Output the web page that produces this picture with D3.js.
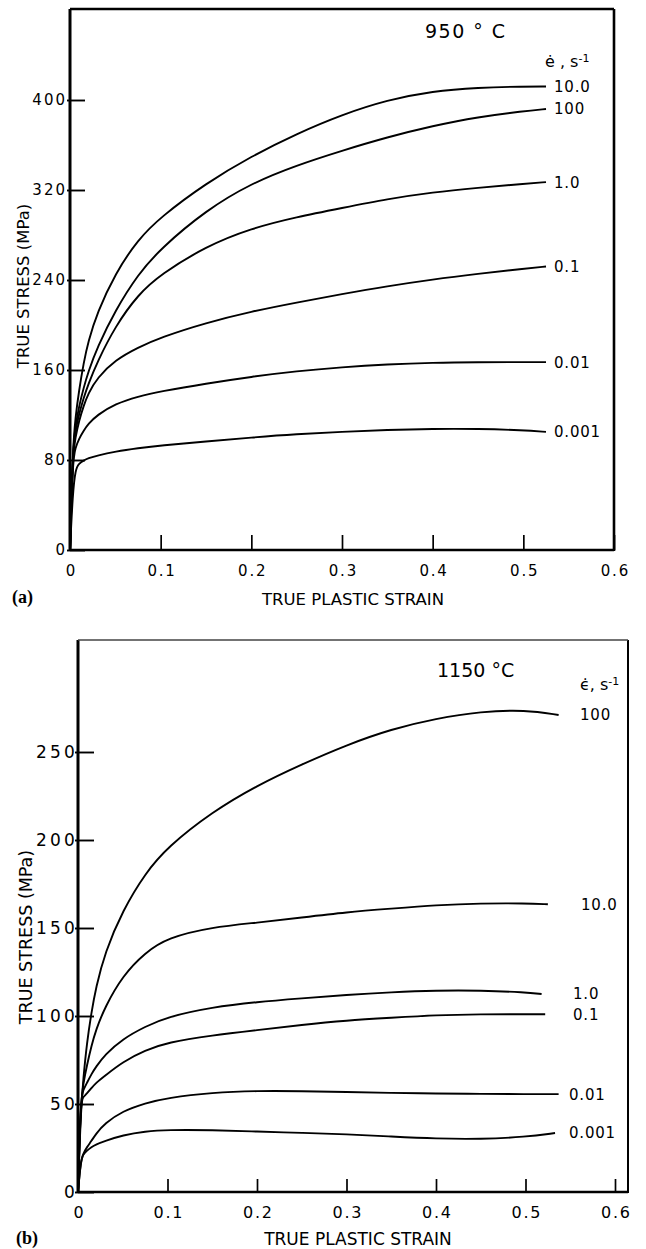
<!DOCTYPE html>
<html>
<head>
<meta charset="utf-8">
<script src="https://cdn.jsdelivr.net/npm/d3@7"></script>
<style>
  body { margin: 0; background: #fff; }
  svg { display: block; }
  text { font-family: "DejaVu Sans", sans-serif; fill: #000; }
</style>
</head>
<body>
<svg width="646" height="1249"></svg>
<script>
// ---- data: (a) 950 °C ----
const strainA = [0, 0.003, 0.006, 0.01, 0.015, 0.02, 0.03, 0.05, 0.075, 0.1, 0.15, 0.2, 0.25, 0.3, 0.35, 0.4, 0.45, 0.5, 0.525];
const ratesA = ["10.0", "100", "1.0", "0.1", "0.01", "0.001"];
const stressA_10 = [0, 90, 118, 142, 166, 185, 211, 246, 276, 296, 326, 350, 370, 387, 400, 408, 411, 412, 412];
const stressA_100 = [0, 88, 110, 128, 144, 158, 180, 213, 245, 268, 302, 326, 342, 355, 367, 377, 385, 390, 392];
const stressA_1 = [0, 88, 106, 121, 135, 147, 167, 199, 227, 245, 270, 286, 296, 304, 312, 318, 322, 325.5, 327];
const stressA_01 = [0, 85, 100, 115, 128, 139, 153, 169, 180, 189, 202, 212, 220, 227.5, 234.5, 240.5, 245.5, 250, 252];
const stressA_001 = [0, 80, 91, 99, 106, 112, 120, 130, 136.5, 141, 148, 154, 159, 162.5, 165, 166.5, 167, 167, 167];
const stressA_0001 = [0, 50, 72, 77, 79.5, 81.5, 84, 87.5, 90.5, 93, 96.5, 100, 103, 105, 106.8, 107.7, 107.7, 106.5, 105];
const yTicksA = [0, 80, 160, 240, 320, 400];

// ---- data: (b) 1150 °C ----
const strainB = [0, 0.003, 0.006, 0.01, 0.015, 0.02, 0.03, 0.05, 0.075, 0.1, 0.15, 0.2, 0.25, 0.3, 0.35, 0.4, 0.45, 0.5];
const ratesB = ["100", "10.0", "1.0", "0.1", "0.01", "0.001"];
const endStrainB = [0.537, 0.525, 0.518, 0.522, 0.537, 0.533];
const stressB_100 = [0, 45, 65, 85, 102, 116, 136, 160, 181, 196, 216, 231, 243, 254, 263, 269, 273, 274, 271];
const stressB_10 = [0, 50, 62, 72, 83, 92, 105, 123, 136, 144.5, 150.5, 153, 156, 159, 161, 163, 164, 164, 163.5];
const stressB_1 = [0, 54, 58, 62, 67, 71, 78, 87, 94, 99.5, 105, 108, 110, 112, 113.5, 114.5, 114.5, 113.5, 112.5];
const stressB_01 = [0, 52, 54, 56, 59, 62, 66, 74, 80.5, 85, 89, 92, 95, 97.5, 99, 100.5, 101, 101, 101];
const stressB_001 = [0, 17, 22, 25.5, 29, 33, 39, 46, 50.5, 53.5, 56.5, 57.5, 57.3, 56.8, 56.3, 56, 55.7, 55.6, 55.6];
const stressB_0001 = [0, 18, 21.5, 23.5, 25.5, 27, 29, 32.3, 34.5, 35.3, 35.2, 34.3, 33.6, 32.8, 31.5, 30.3, 30, 31.3, 33.5];
const yTicksB = [0, 50, 100, 150, 200, 250];

const xTicks = [0, 0.1, 0.2, 0.3, 0.4, 0.5, 0.6];

const svg = d3.select("svg");
const fmtX = d => d === 0 ? "0" : d3.format(".1f")(d);

function drawPanel(o) {
  const g = svg.append("g");
  const x = d3.scaleLinear().domain([0, 0.6]).range(o.xRange);
  const y = d3.scaleLinear().domain(o.yDomain).range(o.yRange);

  // curves
  const line = d3.line()
    .x(d => x(d[0]))
    .y(d => y(d[1]))
    .curve(d3.curveBasis);

  o.series.forEach((s, i) => {
    const pts = s.map((v, j) => [o.strains[i][j], v]);
    g.append("path")
      .attr("d", line(pts))
      .attr("fill", "none")
      .attr("stroke", "#000")
      .attr("stroke-width", 1.9);
    const last = pts[pts.length - 1];
    g.append("text")
      .attr("x", o.labelX(x(last[0]), i))
      .attr("y", y(last[1]))
      .attr("dy", "0.36em")
      .style("font-size", "15px")
      .style("letter-spacing", "0.8px")
      .text(o.rates[i]);
  });

  // axes (inward ticks)
  const ax = g.append("g")
    .attr("transform", `translate(0,${o.yRange[0]})`)
    .call(d3.axisBottom(x).tickValues(xTicks).tickFormat(fmtX)
      .tickSizeInner(-o.xTickLen).tickSizeOuter(0).tickPadding(o.xPad));
  ax.select(".domain").remove();
  ax.selectAll("line").attr("stroke", "#000").attr("stroke-width", 1.7);
  ax.selectAll("text").style("font-size", o.xFont + "px")
    .style("letter-spacing", "1.8px").style("font-family", "DejaVu Sans")
    .attr("dx", "0.9px");

  const ay = g.append("g")
    .attr("transform", `translate(${o.xRange[0]},0)`)
    .call(d3.axisLeft(y).tickValues(o.yTicks)
      .tickSizeInner(-o.yTickLen).tickSizeOuter(0).tickPadding(o.yPad));
  ay.select(".domain").remove();
  ay.selectAll("line").attr("stroke", "#000").attr("stroke-width", 1.9)
    .attr("x1", -3);
  ay.selectAll("text").style("font-size", o.yFont + "px")
    .style("letter-spacing", o.yLs + "px").style("font-family", "DejaVu Sans");

  // frame
  const [l, r] = [o.xRange[0], o.frameRight];
  const [b, t] = [o.yRange[0], o.frameTop];
  g.append("line").attr("x1", l).attr("x2", l).attr("y1", t).attr("y2", b + 1)
    .attr("stroke", "#000").attr("stroke-width", o.frameW[0]);
  g.append("line").attr("x1", l).attr("x2", r).attr("y1", b).attr("y2", b)
    .attr("stroke", "#000").attr("stroke-width", o.frameW[1]);
  g.append("line").attr("x1", r).attr("x2", r).attr("y1", t).attr("y2", b + 1)
    .attr("stroke", "#000").attr("stroke-width", o.frameW[2]);
  g.append("line").attr("x1", l).attr("x2", r).attr("y1", t).attr("y2", t)
    .attr("stroke", o.topColor).attr("stroke-width", o.frameW[3]);

  // axis titles
  g.append("text")
    .attr("transform", `translate(${o.yTitle[0]},${o.yTitle[1]}) rotate(-90)`)
    .attr("text-anchor", "middle")
    .style("font-size", o.yTitleFont + "px")
    .text("TRUE STRESS (MPa)");
  g.append("text")
    .attr("x", o.xTitle[0]).attr("y", o.xTitle[1])
    .attr("text-anchor", "middle")
    .style("font-size", o.xTitleFont + "px")
    .text("TRUE PLASTIC STRAIN");

  // panel letter
  g.append("text")
    .attr("x", o.letter[0]).attr("y", o.letter[1])
    .style("font-family", "Liberation Serif, serif")
    .style("font-weight", "bold")
    .style("font-size", "18px")
    .text(o.letterText);

  // temperature
  g.append("text")
    .attr("x", o.temp[0]).attr("y", o.temp[1])
    .style("font-size", "19px")
    .style("letter-spacing", o.tempLs + "px")
    .text(o.tempText);

  // strain-rate header
  const h = g.append("text")
    .attr("x", o.rateHead[0]).attr("y", o.rateHead[1])
    .style("font-size", "16px");
  h.append("tspan").text(o.epsText);
  h.append("tspan").text(", s");
  h.append("tspan").attr("dy", "-0.45em").style("font-size", "11px").text("-1");
}

drawPanel({
  xRange: [70, 614], yDomain: [0, 400], yRange: [550, 100],
  frameRight: 614, frameTop: 9, frameW: [3, 2.6, 2.6, 2.6], topColor: "#000",
  strains: ratesA.map(() => strainA),
  series: [stressA_10, stressA_100, stressA_1, stressA_01, stressA_001, stressA_0001],
  rates: ratesA,
  labelX: (xe) => xe + 8,
  yTicks: yTicksA, xTickLen: 15, yTickLen: 15, xPad: 15, yPad: 3,
  xFont: 15, yFont: 15, yLs: 2,
  yTitleFont: 16.5, xTitleFont: 16.5, yTitle: [29, 286], xTitle: [353, 605],
  letter: [12, 603], letterText: "(a)",
  temp: [425, 38], tempText: "950 ° C", tempLs: 1.5,
  rateHead: [545, 67], epsText: "ė "
});

drawPanel({
  xRange: [78, 615], yDomain: [0, 250], yRange: [1192, 752],
  frameRight: 628, frameTop: 640, frameW: [3, 2.6, 2, 1.3], topColor: "#444",
  strains: ratesB.map((r, i) => strainB.concat([endStrainB[i]])),
  series: [stressB_100, stressB_10, stressB_1, stressB_01, stressB_001, stressB_0001],
  rates: ratesB,
  labelX: (xe, i) => [580, 581, 573, 573, 569, 569][i],
  yTicks: yTicksB, xTickLen: 13, yTickLen: 16, xPad: 15, yPad: 0,
  xFont: 16, yFont: 17, yLs: 3.2,
  yTitleFont: 17.5, xTitleFont: 17, yTitle: [32, 937], xTitle: [358, 1245],
  letter: [16, 1244], letterText: "(b)",
  temp: [437, 677], tempText: "1150 °C", tempLs: 0,
  rateHead: [580, 690], epsText: "ϵ̇"
});
</script>
</body>
</html>
